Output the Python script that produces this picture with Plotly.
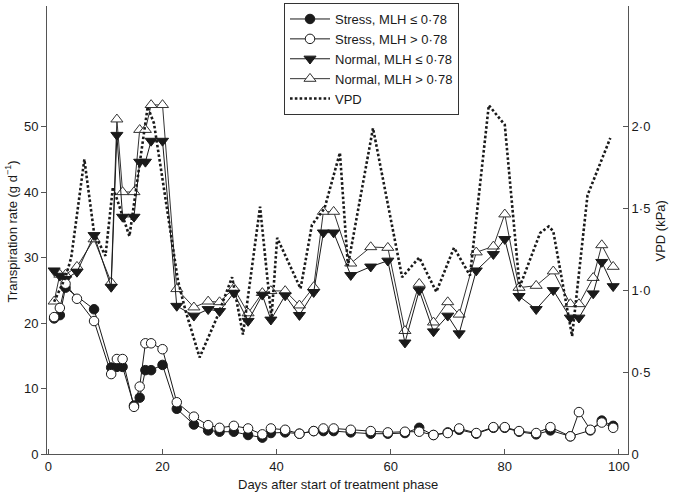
import plotly.graph_objects as go

# ---- data ----
stress_low_days = [1, 2, 3, 8, 11, 12, 13, 15, 16, 17, 18, 20, 22.5, 25.5, 28, 30, 32.5, 35, 37.5, 39, 41.5, 44,
                   46.5, 48.2, 50, 53, 56.5, 59.5, 62.5, 65, 67.5, 70, 72, 75, 78, 80, 82.5, 85.5, 88, 91.5, 95, 97, 99]
stress_low_vals = [20.7, 21.2, 25.4, 22.1, 13.2, 13.3, 13.3, 7.4, 8.6, 12.8, 12.8, 13.6, 6.9, 4.5, 3.6, 3.4, 3.4, 2.9, 2.5, 3.2, 3.3, 3.1,
                   3.5, 3.5, 3.5, 3.3, 3.1, 3.1, 3.2, 4.0, 2.9, 3.3, 3.7, 3.1, 4.0, 4.0, 3.4, 3.0, 3.6, 2.7, 3.6, 5.1, 4.3]

stress_high_days = [1, 2, 3, 5, 8, 11, 12, 13, 15, 16, 17, 18, 20, 22.5, 25.5, 28, 30, 32.5, 35, 37.5, 39, 41.5, 44,
                    46.5, 48.2, 50, 53, 56.5, 59.5, 62.5, 65, 67.5, 70, 72, 75, 78, 80, 82.5, 85.5, 88, 91.5, 93, 95, 97, 99]
stress_high_vals = [20.9, 22.3, 26.0, 23.7, 20.3, 12.2, 14.5, 14.5, 7.2, 10.3, 16.9, 16.9, 16.0, 7.9, 5.7, 4.4, 4.0, 4.3, 3.9, 3.0, 3.9, 3.7, 3.1,
                    3.5, 3.9, 3.9, 3.7, 3.5, 3.3, 3.4, 3.4, 2.9, 3.2, 3.9, 3.2, 4.1, 4.1, 3.5, 3.2, 4.1, 2.7, 6.4, 3.7, 4.8, 4.0]

normal_days = [1, 2, 3, 5, 8, 11, 12, 13, 15, 16, 17, 18, 20, 22.5, 25.5, 28, 30, 32.5, 35, 37.5, 39, 41.5, 44,
               46.5, 48.2, 50, 53, 56.5, 59.5, 62.5, 65, 67.5, 70, 72, 75, 78, 80, 82.5, 85.5, 88.5, 91.5, 93, 95.5, 97, 99]
normal_low_vals = [28.0, 27.2, 26.7, 27.8, 33.4, 25.5, 48.7, 36.2, 36.2, 44.6, 44.6, 47.8, 47.8, 22.6, 21.1, 22.1, 21.8, 24.6, 20.3, 24.3, 20.5, 24.2, 21.2,
                   24.7, 33.8, 33.8, 27.3, 28.6, 29.5, 17.0, 25.0, 18.7, 21.1, 18.4, 28.0, 30.5, 32.8, 24.1, 22.1, 25.0, 20.8, 20.8, 24.5, 29.3, 25.6]
normal_high_vals = [23.3, 27.4, 27.4, 28.6, 32.8, 26.2, 51.1, 40.0, 40.0, 49.5, 49.5, 53.3, 53.3, 25.2, 22.4, 23.3, 23.2, 25.3, 21.5, 24.6, 24.9, 24.9, 22.7,
                    25.5, 37.0, 37.0, 29.1, 31.6, 31.5, 18.8, 26.0, 20.1, 23.2, 21.3, 30.8, 31.7, 36.6, 25.4, 25.7, 27.9, 22.9, 22.9, 26.9, 31.9, 28.6]

vpd_days = [1, 2, 3, 4, 6.3, 8, 10, 11.3, 14.2, 17.4, 18.5, 22.7, 24, 26.5, 29.5, 32.2, 34.1, 37.1, 39.1, 40.1,
            44.2, 46.2, 48.4, 51.1, 52.5, 56.9, 62, 65, 68, 71.1, 73.9, 77.2, 80, 82.6, 84.5, 86.2, 87.7, 88.5, 91.8, 94.5, 98.5]
vpd_vals = [0.93, 1.0, 1.08, 1.2, 1.8, 1.35, 1.21, 1.63, 1.33, 2.12, 2.02, 1.06, 0.88, 0.59, 0.83, 1.08, 0.73, 1.51, 0.83, 1.32,
            1.01, 1.4, 1.5, 1.84, 1.15, 1.99, 1.08, 1.2, 0.99, 1.26, 1.09, 2.13, 2.01, 1.02, 1.2, 1.35, 1.39, 1.36, 0.72, 1.58, 1.93]

x_ticks = [0, 20, 40, 60, 80, 100]
y_ticks = [0, 10, 20, 30, 40, 50]
vpd_ticks = [0, 0.5, 1.0, 1.5, 2.0]
vpd_tick_labels = ["0", "0·5", "1·0", "1·5", "2·0"]

INK = "#1a1a1a"
FONT = "Liberation Sans, Arial, Helvetica, sans-serif"
FS = 13

fig = go.Figure()

# VPD (drawn first so markers sit on top)
fig.add_trace(go.Scatter(
    x=vpd_days, y=vpd_vals, yaxis="y2", name="VPD", mode="lines",
    line=dict(color=INK, width=2.6, dash="2.6px,2.2px"), legendrank=5))

fig.add_trace(go.Scatter(
    x=normal_days, y=normal_high_vals, name="Normal, MLH > 0·78", mode="lines+markers",
    line=dict(color="#333333", width=1),
    marker=dict(symbol="triangle-up", size=10.5, color="white", line=dict(color="#333333", width=1)),
    legendrank=4))
fig.add_trace(go.Scatter(
    x=normal_days, y=normal_low_vals, name="Normal, MLH ≤ 0·78", mode="lines+markers",
    line=dict(color=INK, width=1),
    marker=dict(symbol="triangle-down", size=10.5, color=INK, line=dict(color=INK, width=1)),
    legendrank=3))
fig.add_trace(go.Scatter(
    x=stress_low_days, y=stress_low_vals, name="Stress, MLH ≤ 0·78", mode="lines+markers",
    line=dict(color=INK, width=1),
    marker=dict(symbol="circle", size=9.5, color=INK, line=dict(color=INK, width=1)),
    legendrank=1))
fig.add_trace(go.Scatter(
    x=stress_high_days, y=stress_high_vals, name="Stress, MLH > 0·78", mode="lines+markers",
    line=dict(color=INK, width=1),
    marker=dict(symbol="circle", size=9.5, color="white", line=dict(color=INK, width=1)),
    legendrank=2))

axis_common = dict(showgrid=False, zeroline=False, showline=True, linecolor="#555555", linewidth=1,
                   tickcolor="#555555", ticklen=5, tickwidth=1,
                   tickfont=dict(family=FONT, size=FS, color=INK))

L, R, T, B = 47, 46, 3, 39
PW, PH = 674 - L - R, 493 - T - B


def px_x(px):
    return (px - L) / PW


def px_y(py):
    return (493 - B - py) / PH


title_font = dict(family=FONT, size=FS, color=INK)

fig.update_layout(
    width=674, height=493, autosize=False,
    margin=dict(l=L, r=R, t=T, b=B),
    paper_bgcolor="white", plot_bgcolor="white",
    font=dict(family=FONT, size=FS, color=INK),
    showlegend=True,
    legend=dict(x=px_x(284), xanchor="left", y=px_y(0), yanchor="top",
                bgcolor="white", bordercolor="#333333", borderwidth=1, itemwidth=40,
                font=dict(family=FONT, size=FS, color=INK), traceorder="normal"),
    xaxis=dict(range=[-0.25, 101.6], tickvals=x_ticks, ticks="inside", **axis_common),
    yaxis=dict(range=[0, 68.4], tickvals=y_ticks, ticks="outside", **axis_common),
    yaxis2=dict(range=[0, 2.736], overlaying="y", side="right", anchor="x",
                tickvals=vpd_ticks, ticktext=vpd_tick_labels, ticks="inside", **axis_common),
    annotations=[
        dict(text="Days after start of treatment phase", xref="paper", yref="paper",
             x=px_x(338), y=px_y(485), xanchor="center", yanchor="middle",
             showarrow=False, font=title_font),
        dict(text="Transpiration rate (g d<sup>−1</sup>)", xref="paper", yref="paper",
             x=px_x(12), y=px_y(230), xanchor="center", yanchor="middle", textangle=-90,
             showarrow=False, font=title_font),
        dict(text="VPD (kPa)", xref="paper", yref="paper",
             x=px_x(660), y=px_y(230), xanchor="center", yanchor="middle", textangle=-90,
             showarrow=False, font=title_font),
    ],
)

fig.write_html("out.html", config={"displayModeBar": False},
               post_script="document.body.style.margin='0px';document.body.style.padding='0px';")
